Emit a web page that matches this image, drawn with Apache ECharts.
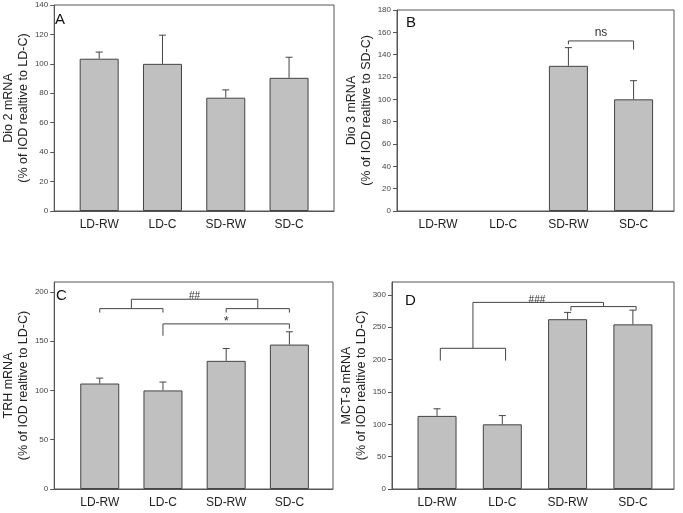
<!DOCTYPE html>
<html>
<head>
<meta charset="utf-8">
<script src="https://cdn.jsdelivr.net/npm/echarts@6/dist/echarts.min.js"></script>
<style>
  html, body { margin: 0; padding: 0; background: #fff; }
  #chart { width: 683px; height: 513px; }
</style>
</head>
<body>
<div id="chart"></div>
<script>
const cats = ['LD-RW', 'LD-C', 'SD-RW', 'SD-C'];

// bar heights and top of error bar, per panel
const dio2 = [103.5, 100, 77, 90.5];
const dio2Err = [108, 119.5, 82.3, 104.5];
const dio3 = [null, null, 130, 100];
const dio3Err = [null, null, 146.3, 116.7];
const trh = [107, 100, 130, 146.5];
const trhErr = [112.5, 108.5, 142.5, 159.5];
const mct8 = [113, 100, 262.5, 254.5];
const mct8Err = [124, 113.5, 273, 276.5];

// significance brackets (x = category index, y = axis value)
const bracketsB = [
    [[2, 149.3], [2, 152.3], [3, 152.3], [3, 144.5]]
];
const bracketsC = [
    [[0, 179], [0, 183], [1, 183], [1, 179]],
    [[2, 179], [2, 183], [3, 183], [3, 179]],
    [[0.5, 183], [0.5, 192.5], [2.5, 192.5], [2.5, 183]],
    [[1, 155.5], [1, 167.5], [3, 167.5], [3, 162.5]]
];
const bracketsD = [
    [[0.05, 198.5], [0.05, 217.5], [1.05, 217.5], [1.05, 198.5]],
    [[0.55, 217.5], [0.55, 288.5], [2.55, 288.5], [2.55, 282]],
    [[2.05, 275.5], [2.05, 282], [3.05, 282], [3.05, 277]]
];
const marksB = [['ns', 2.5, 159.5]];
const marksC = [['##', 1.5, 195.5], ['*', 2, 170]];
const marksD = [['###', 1.53, 292]];

const panels = [
    { letter: 'A', vals: dio2, errs: dio2Err, max: 140, ticks: [0, 20, 40, 60, 80, 100, 120, 140],
      name: 'Dio 2 mRNA\n(% of IOD realtive to LD-C)',
      grid: { left: 48, top: 5, right: 349, bottom: 302 }, pad: [0.71, 0.71], title: [55, 12],
      brackets: [], marks: [] },
    { letter: 'B', vals: dio3, errs: dio3Err, max: 180, ticks: [0, 20, 40, 60, 80, 100, 120, 140, 160, 180],
      name: 'Dio 3 mRNA\n(% of IOD realtive to SD-C)',
      grid: { left: 397, top: 10, right: 9, bottom: 302 }, pad: [0.63, 0.62], title: [406, 15],
      brackets: bracketsB, marks: marksB },
    { letter: 'C', vals: trh, errs: trhErr, max: 210, ticks: [0, 50, 100, 150, 200],
      name: 'TRH mRNA\n(% of IOD realtive to LD-C)',
      grid: { left: 50, top: 282, right: 350, bottom: 24 }, pad: [0.72, 0.69], title: [56, 288],
      brackets: bracketsC, marks: marksC },
    { letter: 'D', vals: mct8, errs: mct8Err, max: 320, ticks: [0, 50, 100, 150, 200, 250, 300],
      name: 'MCT-8 mRNA\n(% of IOD realtive to LD-C)',
      grid: { left: 392, top: 282, right: 9, bottom: 24 }, pad: [0.69, 0.63], title: [405, 293],
      brackets: bracketsD, marks: marksD }
];

const lineColor = '#444';
const font = 'Liberation Sans, Arial, sans-serif';

const option = {
    animation: false,
    textStyle: { fontFamily: font },
    title: [], grid: [], xAxis: [], yAxis: [], series: []
};

panels.forEach((p, i) => {
    option.title.push({
        text: p.letter, left: p.title[0], top: p.title[1], padding: 0,
        textStyle: { fontSize: 15, fontWeight: 'normal', color: '#111', fontFamily: font }
    });
    option.grid.push(Object.assign({ show: true, borderColor: '#555', borderWidth: 1, backgroundColor: 'transparent' }, p.grid));
    option.xAxis.push({
        gridIndex: i, type: 'value', min: -p.pad[0], max: 3 + p.pad[1],
        splitLine: { show: false },
        axisLine: { show: true, onZero: false, lineStyle: { color: '#555' } },
        axisTick: { show: false },
        axisLabel: {
            customValues: [0, 1, 2, 3], formatter: v => cats[Math.round(v)],
            fontSize: 12, color: '#222', margin: 8, fontFamily: font
        }
    });
    option.yAxis.push({
        gridIndex: i, type: 'value', min: 0, max: p.max,
        splitLine: { show: false },
        axisLine: { show: true, onZero: false, lineStyle: { color: '#555' } },
        axisTick: { show: true, length: 4, customValues: p.ticks, lineStyle: { color: '#555' } },
        axisLabel: { customValues: p.ticks, fontSize: 8, color: '#444', margin: 6, fontFamily: font },
        name: p.name, nameLocation: 'middle', nameGap: 20,
        nameTextStyle: { fontSize: 12.5, lineHeight: 15, color: '#222', fontFamily: font }
    });
    option.series.push({
        type: 'bar', xAxisIndex: i, yAxisIndex: i, barWidth: 39,
        data: p.vals.map((v, k) => v == null ? [k, '-'] : [k, v]),
        itemStyle: { color: '#c0c0c0', borderColor: '#444', borderWidth: 1 }
    });
    option.series.push({
        type: 'custom', xAxisIndex: i, yAxisIndex: i, z: 5,
        data: p.vals.map((v, k) => [k, v, p.errs[k]]).filter(d => d[1] != null),
        renderItem: (params, api) => {
            const a = api.coord([api.value(0), api.value(1)]);
            const b = api.coord([api.value(0), api.value(2)]);
            const st = { stroke: lineColor, lineWidth: 1 };
            return { type: 'group', children: [
                { type: 'line', shape: { x1: a[0], y1: a[1], x2: b[0], y2: b[1] }, style: st },
                { type: 'line', shape: { x1: b[0] - 3.5, y1: b[1], x2: b[0] + 3.5, y2: b[1] }, style: st }
            ] };
        }
    });
    if (p.brackets.length) {
        option.series.push({
            type: 'custom', xAxisIndex: i, yAxisIndex: i, z: 5,
            data: p.brackets.map(b => b[0]),
            renderItem: (params, api) => ({
                type: 'polyline',
                shape: { points: p.brackets[params.dataIndex].map(pt => api.coord(pt)) },
                style: { stroke: lineColor, fill: null, lineWidth: 1 }
            })
        });
    }
    if (p.marks.length) {
        option.series.push({
            type: 'custom', xAxisIndex: i, yAxisIndex: i, z: 6,
            data: p.marks.map(m => [m[1], m[2]]),
            renderItem: (params, api) => {
                const c = api.coord([api.value(0), api.value(1)]);
                const t = p.marks[params.dataIndex][0];
                const size = t === 'ns' ? 12 : (t === '*' ? 13 : 10);
                return { type: 'text', style: {
                    text: t, x: c[0], y: c[1], align: 'center', verticalAlign: 'middle',
                    font: size + 'px ' + font, fill: '#333'
                } };
            }
        });
    }
});

const chart = echarts.init(document.getElementById('chart'));
chart.setOption(option);
</script>
</body>
</html>
